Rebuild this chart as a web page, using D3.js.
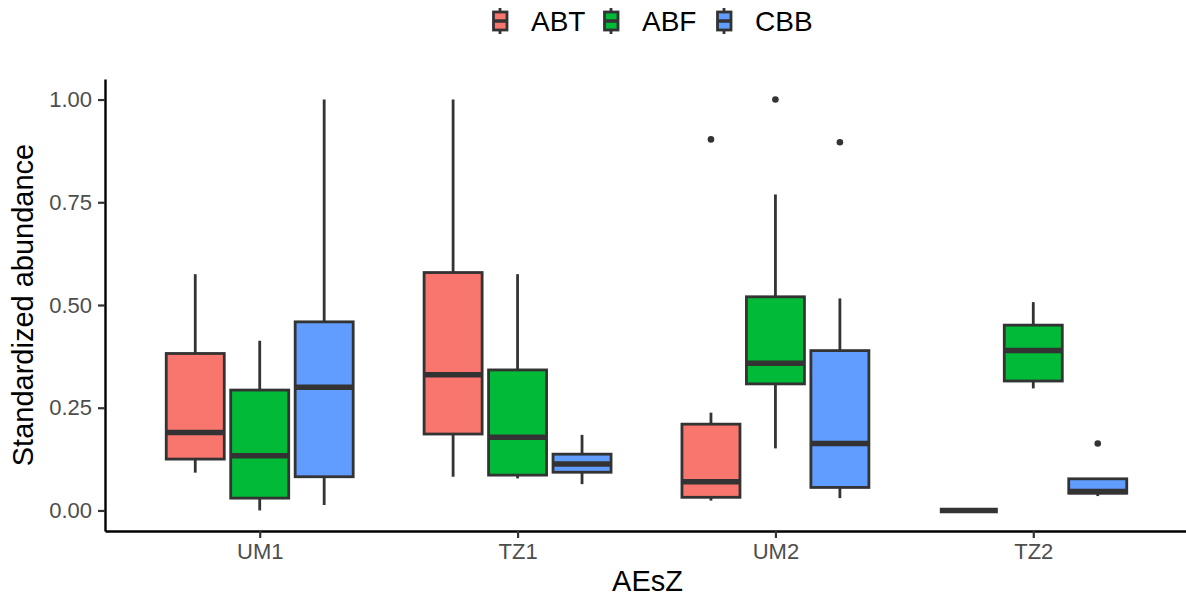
<!DOCTYPE html>
<html>
<head>
<meta charset="utf-8">
<script src="https://cdn.jsdelivr.net/npm/d3@7"></script>
<style>
  body { margin: 0; background: #fff; }
  text { font-family: "Liberation Sans", Arial, sans-serif; }
</style>
</head>
<body>
<div id="chart"></div>
<script>
// Categories and series
const groups = ["UM1", "TZ1", "UM2", "TZ2"];
const series = ["ABT", "ABF", "CBB"];
const seriesColors = ["#F8766D", "#00BA38", "#619CFF"];

// Box stats per group: [lower whisker, q1, median, q3, upper whisker]
const abtStats = [
  [0.092, 0.125, 0.190, 0.382, 0.575],
  [0.082, 0.186, 0.330, 0.579, 1.000],
  [0.024, 0.032, 0.070, 0.210, 0.238],
  [0.000, 0.000, 0.000, 0.000, 0.000]
];
const abfStats = [
  [0.000, 0.030, 0.133, 0.293, 0.413],
  [0.078, 0.086, 0.178, 0.342, 0.575],
  [0.151, 0.308, 0.358, 0.520, 0.769],
  [0.297, 0.315, 0.389, 0.451, 0.507]
];
const cbbStats = [
  [0.013, 0.082, 0.300, 0.459, 1.000],
  [0.064, 0.093, 0.113, 0.137, 0.184],
  [0.030, 0.056, 0.163, 0.389, 0.516],
  [0.035, 0.042, 0.046, 0.077, 0.077]
];
// Outliers: [group, value]
const abtOutliers = [["UM2", 0.903]];
const abfOutliers = [["UM2", 1.000]];
const cbbOutliers = [["UM2", 0.896], ["TZ2", 0.163]];

const yTicks = [0, 0.25, 0.5, 0.75, 1.0];

const allStats = [abtStats, abfStats, cbbStats];
const allOutliers = [abtOutliers, abfOutliers, cbbOutliers];

const boxes = [];
series.forEach((s, j) => {
  groups.forEach((g, i) => {
    const st = allStats[j][i];
    boxes.push({ series: s, j: j, group: g, i: i,
      lo: st[0], q1: st[1], med: st[2], q3: st[3], hi: st[4] });
  });
});
const outliers = [];
series.forEach((s, j) => {
  allOutliers[j].forEach(([g, v]) => outliers.push({ series: s, j: j, i: groups.indexOf(g), v: v }));
});

// Dimensions
const W = 1186, H = 599;
const margin = { top: 79, right: -2, bottom: 68, left: 105 };

const svg = d3.select("#chart").append("svg")
  .attr("width", W).attr("height", H);

// Scales (ggplot-like discrete expansion of 0.6)
const x = d3.scaleLinear()
  .domain([0.4, groups.length + 0.6])
  .range([margin.left, W - margin.right]);
const y = d3.scaleLinear()
  .domain([-0.05, 1.05])
  .range([H - margin.bottom, margin.top]);
const color = d3.scaleOrdinal().domain(series).range(seriesColors);

const dodge = 0.75 / series.length;
const boxW = dodge * 0.9;
const cx = (d) => x(d.i + 1 + (d.j - (series.length - 1) / 2) * dodge);
const halfW = (x(1 + boxW / 2) - x(1));

const stroke = "#333333";

// Whiskers
const bx = svg.append("g");
bx.selectAll(".whisker")
  .data(boxes)
  .enter().append("line")
  .attr("x1", cx).attr("x2", cx)
  .attr("y1", (d) => y(d.lo)).attr("y2", (d) => y(d.hi))
  .attr("stroke", stroke).attr("stroke-width", 2.8);

// Boxes
bx.selectAll(".box")
  .data(boxes)
  .enter().append("rect")
  .attr("x", (d) => cx(d) - halfW)
  .attr("width", halfW * 2)
  .attr("y", (d) => y(d.q3))
  .attr("height", (d) => Math.max(0, y(d.q1) - y(d.q3)))
  .attr("fill", (d) => color(d.series))
  .attr("stroke", stroke).attr("stroke-width", 2.8);

// Medians
bx.selectAll(".median")
  .data(boxes)
  .enter().append("line")
  .attr("x1", (d) => cx(d) - halfW).attr("x2", (d) => cx(d) + halfW)
  .attr("y1", (d) => y(d.med)).attr("y2", (d) => y(d.med))
  .attr("stroke", stroke).attr("stroke-width", 5.5);

// Outliers
bx.selectAll(".outlier")
  .data(outliers)
  .enter().append("circle")
  .attr("cx", cx)
  .attr("cy", (d) => y(d.v))
  .attr("r", 3.3)
  .attr("fill", stroke);

// Y axis
const yAxis = svg.append("g")
  .attr("transform", "translate(" + margin.left + ",0)")
  .call(d3.axisLeft(y).tickValues(yTicks).tickFormat(d3.format(".2f"))
    .tickSize(7).tickSizeOuter(0).tickPadding(6));
yAxis.select(".domain").attr("stroke", "#000").attr("stroke-width", 2.4);
yAxis.selectAll(".tick line").attr("stroke", "#333").attr("stroke-width", 2.2);
yAxis.selectAll(".tick text")
  .attr("fill", "#4d4d4d")
  .style("font-size", "22px")
  .style("font-family", "'Liberation Sans', Arial, sans-serif");

// X axis
const xAxis = svg.append("g")
  .attr("transform", "translate(0," + (H - margin.bottom) + ")")
  .call(d3.axisBottom(x).tickValues(groups.map((g, i) => i + 1))
    .tickFormat((d) => groups[d - 1])
    .tickSize(7).tickSizeOuter(0).tickPadding(5));
xAxis.select(".domain").attr("stroke", "#000").attr("stroke-width", 2.4);
xAxis.selectAll(".tick line").attr("stroke", "#333").attr("stroke-width", 2.2);
xAxis.selectAll(".tick text")
  .attr("fill", "#4d4d4d")
  .style("font-size", "22px")
  .style("font-family", "'Liberation Sans', Arial, sans-serif");

// Axis titles
svg.append("text")
  .attr("x", (margin.left + W) / 2 + 2)
  .attr("y", 591)
  .attr("text-anchor", "middle")
  .style("font-size", "29px")
  .attr("fill", "#000")
  .text("AEsZ");

svg.append("text")
  .attr("transform", "translate(33," + ((margin.top + H - margin.bottom) / 2) + ") rotate(-90)")
  .attr("text-anchor", "middle")
  .style("font-size", "29px")
  .attr("fill", "#000")
  .text("Standardized abundance");

// Legend
const legendX = [493, 604, 717];
const legend = svg.append("g");
series.forEach((s, j) => {
  const g = legend.append("g").attr("transform", "translate(" + legendX[j] + ",0)");
  g.append("line").attr("x1", 7).attr("x2", 7).attr("y1", 8).attr("y2", 34)
    .attr("stroke", stroke).attr("stroke-width", 2.8);
  g.append("rect").attr("x", 0.5).attr("y", 12).attr("width", 13.5).attr("height", 18)
    .attr("fill", color(s)).attr("stroke", stroke).attr("stroke-width", 2.8);
  g.append("line").attr("x1", 0.5).attr("x2", 14).attr("y1", 21).attr("y2", 21)
    .attr("stroke", stroke).attr("stroke-width", 3.5);
  g.append("text").attr("x", 38).attr("y", 31)
    .style("font-size", "28px").attr("fill", "#000").text(s);
});
</script>
</body>
</html>
